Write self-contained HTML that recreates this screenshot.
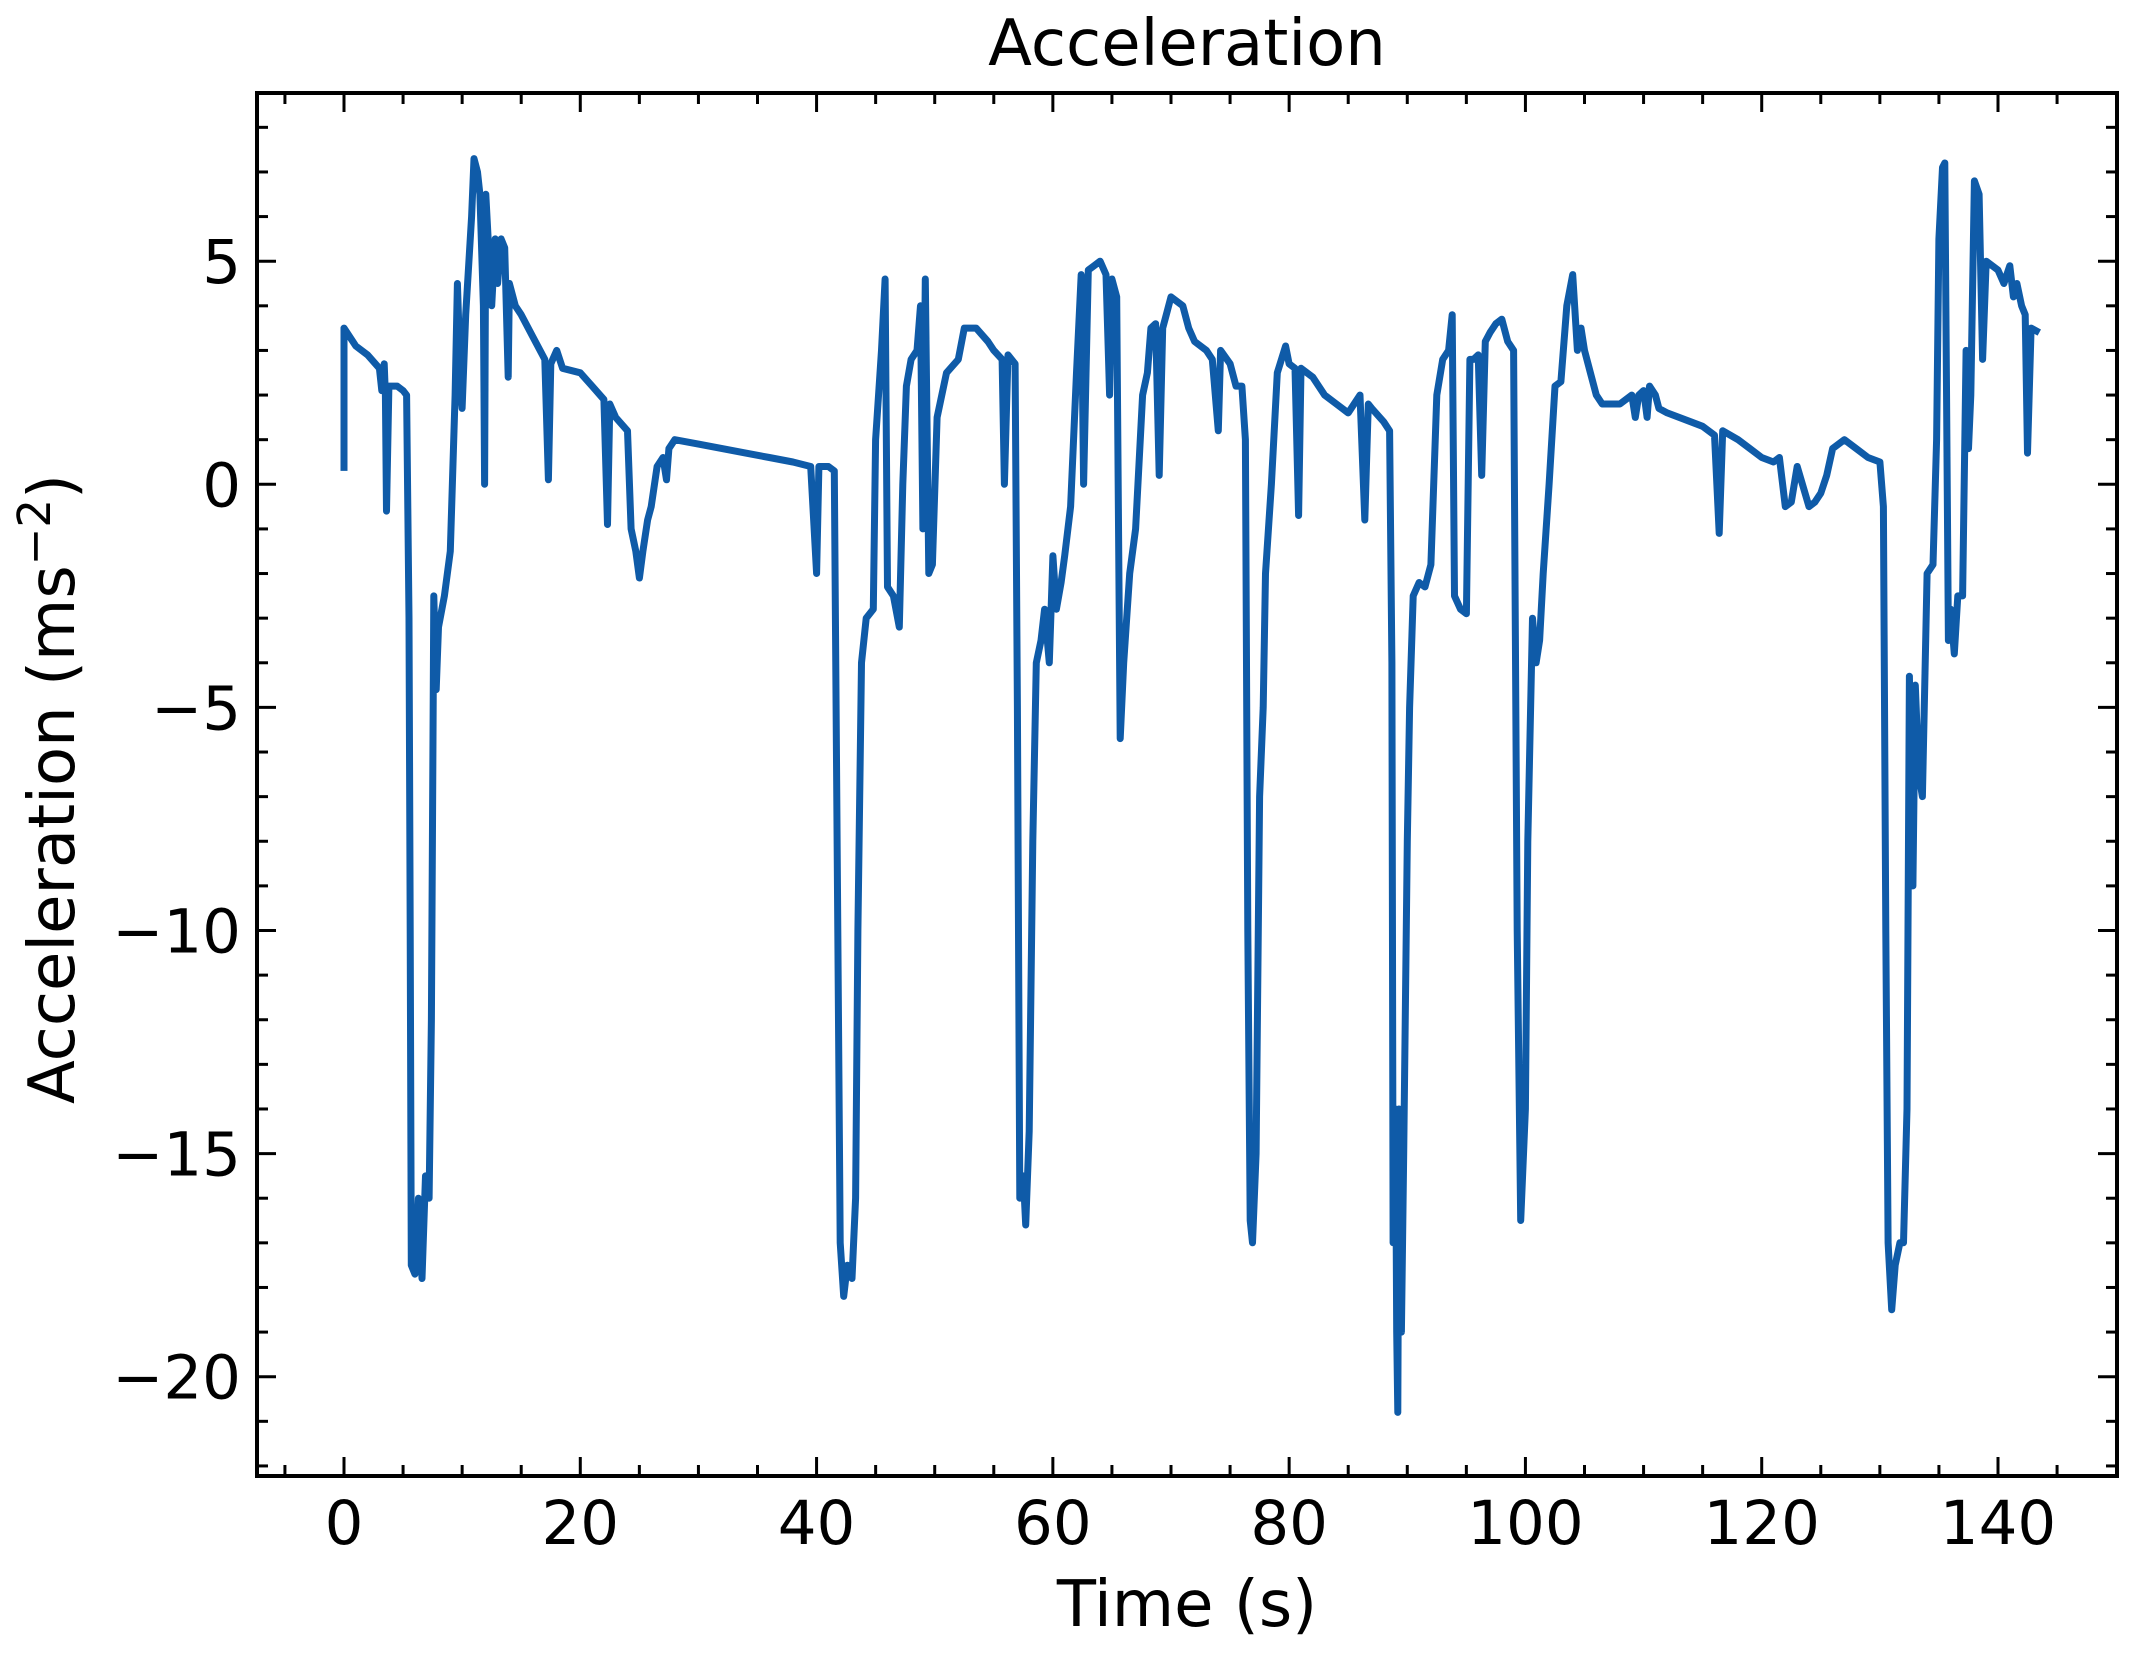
<!DOCTYPE html>
<html><head><meta charset="utf-8"><style>
html,body{margin:0;padding:0;background:#fff}
svg{display:block}
text{font-family:"DejaVu Sans","Liberation Sans",sans-serif;fill:#000}
</style></head><body>
<svg id="chart" width="2133" height="1656" viewBox="0 0 2133 1656" xmlns="http://www.w3.org/2000/svg">
<rect x="0" y="0" width="2133" height="1656" fill="#fff"/>
<text x="1187" y="65" font-size="64" text-anchor="middle">Acceleration</text>
<text x="1187" y="1626" font-size="64" text-anchor="middle">Time (s)</text>
<text transform="translate(74,789) rotate(-90)" font-size="64" text-anchor="middle">Acceleration (ms<tspan dy="-24" font-size="45">−2</tspan><tspan dy="24">)</tspan></text>
<g id="ticks"></g>
<g id="plot"></g>
<rect x="257" y="93" width="1860" height="1383" fill="none" stroke="#000" stroke-width="4"/>
</svg>
<script>
const times=[0,0,0.5,1,2,3,3.2,3.4,3.5,3.6,3.8,4.5,5,5.3,5.5,5.6,5.7,6,6.3,6.6,6.9,7.2,7.4,7.6,7.8,8,8.5,9,9.4,9.6,9.9,10,10.3,10.8,11,11.3,11.5,11.8,11.9,12,12.5,12.8,13,13.3,13.6,13.9,14,14.5,15,16,17,17.3,17.5,18,18.5,20,21,22,22.3,22.5,23,24,24.3,24.7,25,25.3,25.7,26,26.5,27,27.3,27.5,28,30,32,34,36,38,39.5,40,40.2,41,41.5,41.8,42,42.3,42.6,43,43.3,43.5,43.8,44.2,44.8,45,45.5,45.8,46,46.5,47,47.3,47.6,48,48.5,48.8,49,49.2,49.5,49.8,50.2,51,52,52.5,53.5,54.5,55,55.7,55.9,56.2,56.8,57,57.2,57.5,57.7,58,58.3,58.6,59,59.3,59.7,60,60.3,60.7,61,61.5,62,62.4,62.6,63,63.5,64,64.5,64.8,65,65.4,65.7,66,66.5,67,67.3,67.6,68,68.3,68.7,69,69.3,69.6,70,71,71.5,72,73,73.5,74,74.2,75,75.5,76,76.3,76.5,76.7,76.9,77.2,77.5,77.8,78,78.5,79,79.7,80,80.5,80.8,81,82,83,84,85,86,86.4,86.7,87,88,88.5,88.7,88.8,89,89.1,89.2,89.3,89.5,89.7,90,90.2,90.5,91,91.5,92,92.5,93,93.5,93.8,94,94.5,95,95.3,95.6,96,96.3,96.6,97,97.5,98,98.5,99,99.3,99.6,100,100.2,100.6,100.9,101.2,101.5,102,102.5,103,103.5,104,104.4,104.7,105,105.5,106,106.5,108,109,109.3,109.6,110,110.3,110.5,111,111.3,112,114,115,116,116.4,116.7,118,119,120,121,121.5,122,122.5,123,124,124.5,125,125.5,126,127,128,129,130,130.3,130.5,130.7,131,131.3,131.7,132,132.3,132.5,132.8,133,133.3,133.6,134,134.5,134.8,135,135.3,135.5,135.8,136,136.3,136.6,137,137.3,137.5,137.7,138,138.4,138.7,139,140,140.5,141,141.3,141.6,142,142.3,142.5,142.8,143.5];
const accel=[0.3,3.5,3.3,3.1,2.9,2.6,2.1,2.7,2.0,-0.6,2.2,2.2,2.1,2.0,-3,-10,-17.5,-17.7,-16,-17.8,-15.5,-16,-12,-2.5,-4.6,-3.2,-2.5,-1.5,2,4.5,2,1.7,3.8,6,7.3,7.0,6.5,4,0,6.5,4,5.5,4.5,5.5,5.3,2.4,4.5,4,3.8,3.3,2.8,0.1,2.7,3,2.6,2.5,2.2,1.9,-0.9,1.8,1.5,1.2,-1.0,-1.5,-2.1,-1.5,-0.8,-0.5,0.4,0.6,0.1,0.8,1.0,0.9,0.8,0.7,0.6,0.5,0.4,-2.0,0.4,0.4,0.3,-10,-17,-18.2,-17.5,-17.8,-16,-10,-4,-3,-2.8,1,3,4.6,-2.3,-2.5,-3.2,0,2.2,2.8,3,4.0,-1.0,4.6,-2.0,-1.8,1.5,2.5,2.8,3.5,3.5,3.2,3.0,2.8,0.0,2.9,2.7,-5,-16,-15.5,-16.6,-14.5,-8,-4,-3.5,-2.8,-4,-1.6,-2.8,-2.2,-1.6,-0.5,2.5,4.7,0.0,4.8,4.9,5.0,4.7,2.0,4.6,4.2,-5.7,-4,-2,-1,0.5,2,2.5,3.5,3.6,0.2,3.5,3.8,4.2,4.0,3.5,3.2,3.0,2.8,1.2,3,2.7,2.2,2.2,1.0,-10,-16.5,-17,-15,-7,-5,-2,0,2.5,3.1,2.7,2.6,-0.7,2.6,2.4,2.0,1.8,1.6,2,-0.8,1.8,1.7,1.4,1.2,-4,-17,-14,-19,-20.8,-14,-19,-15,-8,-5,-2.5,-2.2,-2.3,-1.8,2,2.8,3,3.8,-2.5,-2.8,-2.9,2.8,2.8,2.9,0.2,3.2,3.4,3.6,3.7,3.2,3.0,-10,-16.5,-14,-8,-3,-4,-3.5,-2,0,2.2,2.3,4,4.7,3,3.5,3.0,2.5,2,1.8,1.8,2.0,1.5,2.0,2.1,1.5,2.2,2.0,1.7,1.6,1.4,1.3,1.1,-1.1,1.2,1.0,0.8,0.6,0.5,0.6,-0.5,-0.4,0.4,-0.5,-0.4,-0.2,0.2,0.8,1.0,0.8,0.6,0.5,-0.5,-10,-17,-18.5,-17.5,-17.0,-17,-14,-4.3,-9,-4.5,-6.5,-7,-2,-1.8,1,5.5,7.1,7.2,-3.5,-2.8,-3.8,-2.5,-2.5,3.0,0.8,2.0,6.8,6.5,2.8,5.0,4.8,4.5,4.9,4.2,4.5,4.0,3.8,0.7,3.5,3.4];
const xTicks=[0,20,40,60,80,100,120,140];
const yTicks=[5,0,-5,-10,-15,-20];
const yTickLabels=["5","0","−5","−10","−15","−20"];

const L=257,R=2117,T=93,B=1476;
function sx(t){return 344+(t-0)*(1998-344)/140;}
function sy(v){return 484.3+(v-0)*(261.2-484.3)/5;}
const NS="http://www.w3.org/2000/svg";
const tg=document.getElementById('ticks');
function line(x1,y1,x2,y2,name){
  const l=document.createElementNS(NS,'line');
  l.setAttribute('x1',x1);l.setAttribute('y1',y1);l.setAttribute('x2',x2);l.setAttribute('y2',y2);
  l.setAttribute('stroke','#000');l.setAttribute('stroke-width','3');
  
  
  tg.appendChild(l);
}
for(let t=-5;t<=145;t+=5){
  const x=sx(t); if(x<L||x>R) continue;
  const major=(t%20===0); const len=major?19:11;
  line(x,B,x,B-len,'x-tick');line(x,T,x,T+len,'x-tick-top');
}
for(let v=-22;v<=8;v+=1){
  const y=sy(v); if(y<T||y>B) continue;
  const major=(v%5===0); const len=major?19:11;
  line(L,y,L+len,y,'y-tick');line(R,y,R-len,y,'y-tick-right');
}
xTicks.forEach(t=>{
  const tx=document.createElementNS(NS,'text');
  tx.setAttribute('x',sx(t));tx.setAttribute('y',1544);tx.setAttribute('font-size','61');tx.setAttribute('text-anchor','middle');
  tx.textContent=String(t);
  
  
  tg.appendChild(tx);
});
yTicks.forEach((v,i)=>{
  const tx=document.createElementNS(NS,'text');
  tx.setAttribute('x',241);tx.setAttribute('y',sy(v)+22);tx.setAttribute('font-size','61');tx.setAttribute('text-anchor','end');
  tx.textContent=yTickLabels[i];
  
  
  tg.appendChild(tx);
});
const p=document.createElementNS(NS,'path');
p.setAttribute('d',times.map((t,i)=>(i?'L':'M')+sx(t).toFixed(1)+','+sy(accel[i]).toFixed(1)).join(' '));
p.setAttribute('fill','none');p.setAttribute('stroke','#0f5ba8');p.setAttribute('stroke-width','7');p.setAttribute('stroke-linejoin','round');


document.getElementById('plot').appendChild(p);
</script>
</body></html>
